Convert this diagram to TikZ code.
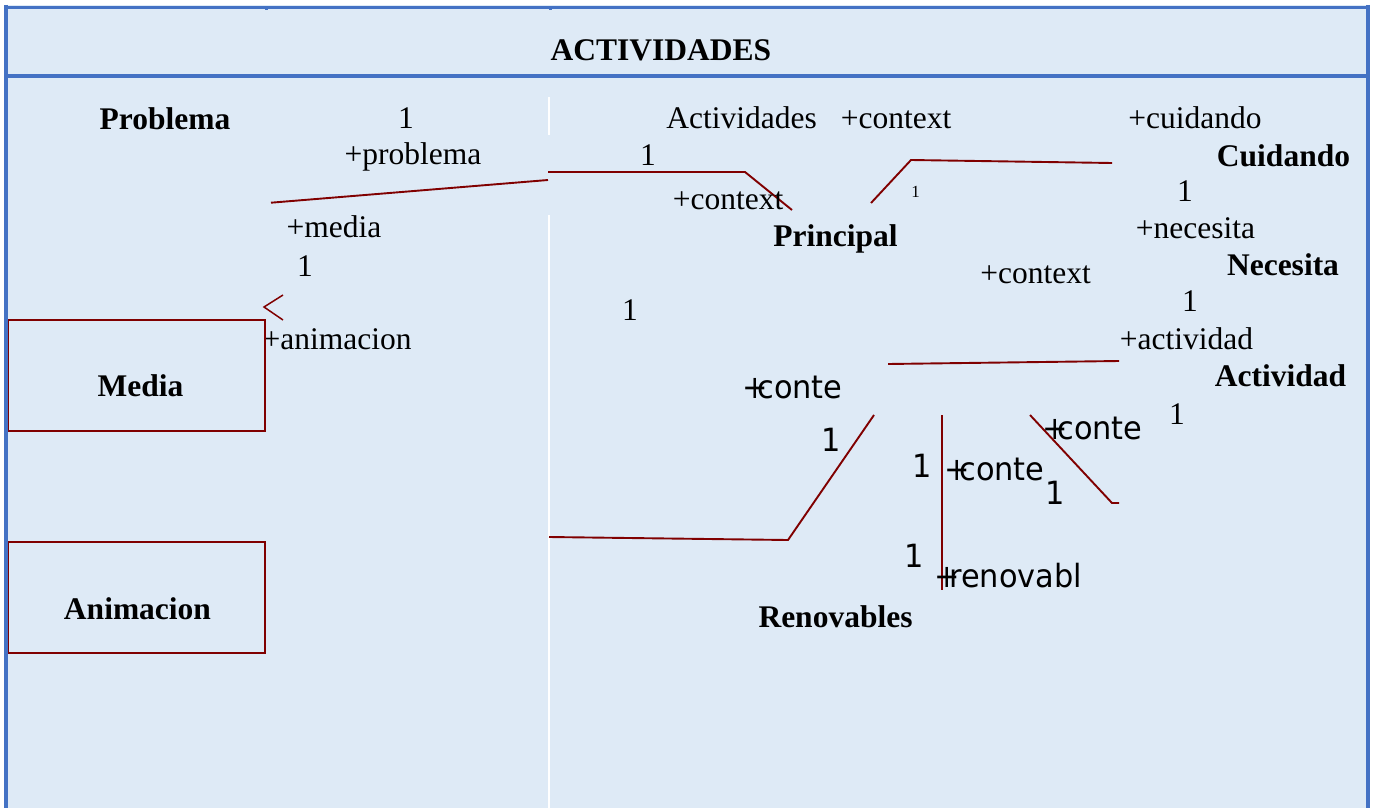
\documentclass[tikz,border=0pt]{standalone}
\usepackage{fontspec}
\setmainfont{Liberation Serif}
\newfontfamily\umlsans{DejaVu Sans}
\definecolor{panel}{HTML}{DEEAF6}
\definecolor{frameblue}{HTML}{4472C4}
\definecolor{assoc}{HTML}{800000}
% role names squeezed the way the modelling tool prints them
\newcommand\plusrole[1]{\scalebox{0.95}[1]{+\kern-0.34em #1}}
\newcommand\squeezed[1]{\scalebox{0.95}[1]{#1}}

\begin{document}
\begin{tikzpicture}[x=1pt,y=-1pt,
  lbl/.style={inner sep=0pt, anchor=base, font=\fontsize{31.5}{36}\selectfont},
  cls/.style={inner sep=0pt, anchor=base, font=\fontsize{31.5}{36}\selectfont\bfseries},
  tiny/.style={inner sep=0pt, anchor=base, font=\fontsize{17}{20}\selectfont},
  role/.style={inner sep=0pt, anchor=base west, font=\fontsize{32}{36}\selectfont\umlsans},
  link/.style={draw=assoc, line width=1.9pt},
  classbox/.style={draw=assoc, line width=1.8pt, fill=panel, minimum width=257pt,
    minimum height=111pt, inner sep=0pt},
  rule/.style={frameblue, line width=4pt}
]
% page and panel
\fill[white] (0,0) rectangle (1375,808);
\useasboundingbox (0,0) rectangle (1375,808);
\fill[panel] (4,5) rectangle (1370,808);

% light separator between the two columns
\draw[white, line width=1.6pt] (549,97) -- (549,135);
\draw[white, line width=1.6pt] (549,215) -- (549,808);

% association end points
\coordinate (p1) at (271,202.7);
\coordinate (p2) at (548,180);
\coordinate (q1) at (548,172);
\coordinate (q2) at (745,172);
\coordinate (q3) at (792,210);
\coordinate (r1) at (871,203);
\coordinate (r2) at (911,160);
\coordinate (r3) at (1112,163);
\coordinate (s1) at (888,364);
\coordinate (s2) at (1119,361);
\coordinate (t1) at (549,537);
\coordinate (t2) at (788,540);
\coordinate (t3) at (874,415);
\coordinate (u1) at (942,415);
\coordinate (u2) at (942,590);
\coordinate (v1) at (1030,415);
\coordinate (v2) at (1112,503);
\coordinate (v3) at (1119,503);
\coordinate (h1) at (283,295);
\coordinate (h2) at (264,307);
\coordinate (h3) at (283,320);

% associations
\draw[link] (p1) -- (p2);
\draw[link] (q1) -- (q2) -- (q3);
\draw[link] (r1) -- (r2) -- (r3);
\draw[link] (s1) -- (s2);
\draw[link] (t1) -- (t2) -- (t3);
\draw[link] (u1) -- (u2);
\draw[link] (v1) -- (v2) -- (v3);
\draw[assoc, line width=1.5pt] (h1) -- (h2) -- (h3);

% title
\node[cls] (title) at (661,60) {ACTIVIDADES};

% class names
\node[cls] (problema) at (165,129) {Problema};
\node[cls] (principal) at (835.5,246.5) {Principal};
\node[cls] (cuidando) at (1283.5,166.5) {Cuidando};
\node[cls] (necesita) at (1283,275) {Necesita};
\node[cls] (actividad) at (1280.5,386.5) {Actividad};
\node[cls] (renovables) at (835.5,627) {Renovables};

% roles and multiplicities, serif
\node[lbl] (m1) at (406,128) {1};
\node[lbl] (actividades) at (741.5,128) {Actividades};
\node[lbl] (ctxa) at (896,128) {+context};
\node[lbl] (rcuid) at (1195,128) {+cuidando};
\node[lbl] (rprob) at (413,164) {+problema};
\node[lbl] (m2) at (648,165) {1};
\node[lbl] (ctxb) at (728,209) {+context};
\node[tiny] (m3) at (915.5,197.5) {1};
\node[lbl] (m4) at (1185,201.5) {1};
\node[lbl] (rmedia) at (334,237) {+media};
\node[lbl] (rnec) at (1195.5,238) {+necesita};
\node[lbl] (m5) at (305,276) {1};
\node[lbl] (ctxc) at (1035.5,283) {+context};
\node[lbl] (m6) at (1190,311.5) {1};
\node[lbl] (m7) at (630,320) {1};
\node[lbl] (ranim) at (337,349) {+animacion};
\node[lbl] (ract) at (1186.5,349) {+actividad};
\node[lbl] (m8) at (1177,424) {1};

% roles and multiplicities, sans
\node[role] (ca) at (742,398) {\plusrole{conte}};
\node[role] (m9) at (821,451) {\squeezed{1}};
\node[role] (m10) at (912,477) {\squeezed{1}};
\node[role] (cb) at (944,480) {\plusrole{conte}};
\node[role] (cc) at (1042,439) {\plusrole{conte}};
\node[role] (m11) at (1045,504) {\squeezed{1}};
\node[role] (m12) at (904,567) {\squeezed{1}};
\node[role] (rrenov) at (934,587) {\plusrole{renovabl}};

% boxed classes
\node[classbox] (media) at (136.5,375.5) {};
\node[cls] (medialbl) at (140.5,396.5) {Media};
\node[classbox] (animacion) at (136.5,597.5) {};
\node[cls] (animlbl) at (137.5,619) {Animacion};

% frame
\draw[frameblue, line width=3pt] (4,7.5) -- (1370,7.5);
\draw[rule] (4,76) -- (1370,76);
\draw[rule] (6,5) -- (6,808);
\draw[rule] (1368,5) -- (1368,808);
\fill[frameblue] (265,9) rectangle (268,10.2);
\fill[frameblue] (549,9) rectangle (552,10.2);
\end{tikzpicture}
\end{document}
